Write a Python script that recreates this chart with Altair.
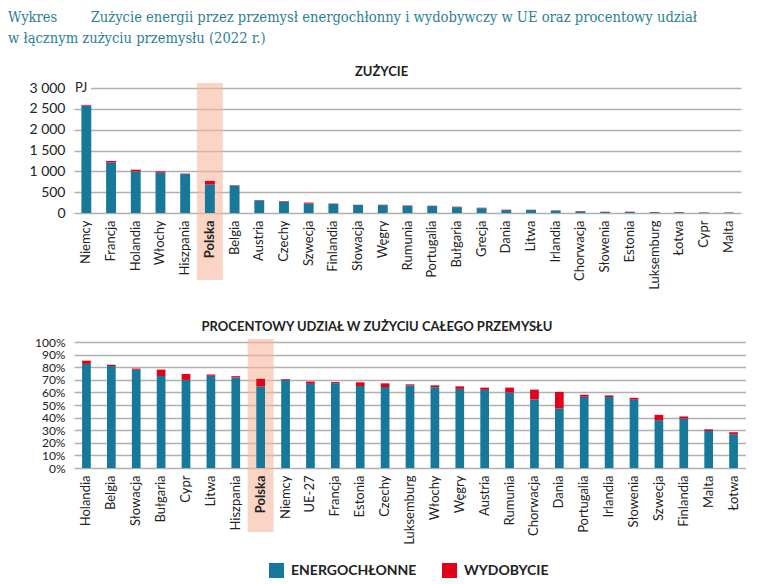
import altair as alt
import pandas as pd

# ---------------- data ----------------
series = ["ENERGOCHŁONNE", "WYDOBYCIE"]

countries_top = ["Niemcy", "Francja", "Holandia", "Włochy", "Hiszpania", "Polska", "Belgia",
                 "Austria", "Czechy", "Szwecja", "Finlandia", "Słowacja", "Węgry", "Rumunia",
                 "Portugalia", "Bułgaria", "Grecja", "Dania", "Litwa", "Irlandia", "Chorwacja",
                 "Słowenia", "Estonia", "Luksemburg", "Łotwa", "Cypr", "Malta"]
energo_top = [2580, 1215, 1000, 970, 935, 690, 660, 303, 275, 225, 222, 193, 190, 172,
              168, 140, 115, 70, 75, 60, 40, 28, 26, 22, 20, 14, 13]
wyd_top = [15, 35, 40, 30, 10, 80, 8, 8, 12, 25, 5, 5, 8, 10,
           6, 12, 12, 10, 4, 4, 8, 4, 6, 2, 4, 2, 1]

countries_bot = ["Holandia", "Belgia", "Słowacja", "Bułgaria", "Cypr", "Litwa", "Hiszpania",
                 "Polska", "Niemcy", "UE-27", "Francja", "Estonia", "Czechy", "Luksemburg",
                 "Włochy", "Węgry", "Austria", "Rumunia", "Chorwacja", "Dania", "Portugalia",
                 "Irlandia", "Słowenia", "Szwecja", "Finlandia", "Malta", "Łotwa"]
energo_bot = [82.6, 81.0, 78.1, 73.0, 69.9, 73.2, 71.9, 64.8, 70.0, 66.8, 67.3, 65.1, 64.3,
              65.6, 64.1, 62.8, 62.0, 59.9, 54.4, 47.4, 56.5, 56.3, 54.2, 38.0, 39.3, 29.4, 26.8]
wyd_bot = [2.6, 1.0, 0.8, 5.1, 4.8, 1.0, 1.0, 6.0, 0.6, 1.8, 0.9, 2.9, 2.9,
           0.8, 1.5, 2.0, 1.8, 3.9, 7.8, 13.0, 1.6, 1.3, 1.5, 4.2, 1.6, 1.3, 1.6]

y_ticks_top = [0, 500, 1000, 1500, 2000, 2500, 3000]
y_ticks_bot = [0, 10, 20, 30, 40, 50, 60, 70, 80, 90, 100]

TEAL = "#17789a"
RED = "#e2001a"
BAND = "#f7b9a0"
FONT = "Lato"


def to_long(countries, e, w):
    rows = []
    for c, a, b in zip(countries, e, w):
        rows.append({"kraj": c, "seria": series[0], "v": a, "o": 0})
        rows.append({"kraj": c, "seria": series[1], "v": b, "o": 1})
    return pd.DataFrame(rows)


color_enc = alt.Color(
    "seria:N",
    scale=alt.Scale(domain=series, range=[TEAL, RED]),
    legend=alt.Legend(title=None, orient="none", legendX=195, legendY=475,
                      direction="horizontal", symbolType="square", symbolSize=225,
                      symbolStrokeWidth=0, labelFontSize=14, labelFontWeight="bold",
                      labelFont=FONT, labelColor="#222", columnPadding=25, labelOffset=7),
)


def panel(countries, e, w, ymax, ticks, lab_expr, width, height, title, title_dx,
          pad_in, pad_out, band_y, band_y2, ylab_size, pj=False):
    df = to_long(countries, e, w)
    xenc = alt.X(
        "kraj:N", sort=countries,
        scale=alt.Scale(domain=countries, paddingInner=pad_in, paddingOuter=pad_out),
        axis=alt.Axis(title=None, labelAngle=270, labelAlign="right", labelBaseline="middle",
                      ticks=False, domain=False, labelPadding=7, labelFontSize=13,
                      labelFont=FONT, labelColor="#222", grid=False, zindex=1,
                      labelFontWeight=alt.condition("datum.value == 'Polska'",
                                                    alt.value("bold"), alt.value("normal"))),
    )
    band = alt.Chart(pd.DataFrame({"kraj": ["Polska"]})).mark_bar(
        color=BAND, opacity=0.6, size=26
    ).encode(x=xenc, y=alt.value(band_y), y2=alt.value(band_y2))
    bars = alt.Chart(df).mark_bar().encode(
        x=xenc,
        y=alt.Y("v:Q", stack="zero", scale=alt.Scale(domain=[0, ymax], nice=False),
                axis=alt.Axis(title=None, values=ticks, labelExpr=lab_expr, ticks=False,
                              domain=False, grid=True, gridColor="#b0b0b0", gridWidth=1.3,
                              labelFontSize=ylab_size, labelFont=FONT, labelColor="#222",
                              labelPadding=9, labelOverlap=False)),
        color=color_enc,
        order=alt.Order("o:Q"),
    )
    layers = [band, bars]
    if pj:
        pj_df = pd.DataFrame({"t": ["PJ"]})
        box = alt.Chart(pj_df).mark_rect(color="white").encode(
            x=alt.value(0), x2=alt.value(17), y=alt.value(-3), y2=alt.value(3))
        txt = alt.Chart(pj_df).mark_text(align="left", baseline="middle", fontSize=13,
                                         font=FONT, color="#222", dx=1).encode(
            x=alt.value(0), y=alt.value(0), text="t:N")
        layers += [box, txt]
    return alt.layer(*layers).properties(
        width=width, height=height,
        title=alt.TitleParams(title, font=FONT, fontSize=13, fontWeight="bold",
                              color="#222", anchor="middle", dx=title_dx, offset=2),
    )


top = panel(countries_top, energo_top, wyd_top, 3000, y_ticks_top,
            "replace(format(datum.value, ','), ',', ' ')", 667, 125, "ZUŻYCIE", -26,
            0.6, 0.3, -5, 192, 14, pj=True)
bot = panel(countries_bot, energo_bot, wyd_bot, 100, y_ticks_bot,
            "datum.value + '%'", 672, 126, "PROCENTOWY UDZIAŁ W ZUŻYCIU CAŁEGO PRZEMYSŁU", -33,
            0.65, 0.325, -3, 190, 12)

line1 = "Wykres" + "\u00a0" * 8 + "Zużycie energii przez przemysł energochłonny i wydobywczy w UE oraz procentowy udział"
line2 = "w łącznym zużyciu przemysłu (2022 r.)"

chart = alt.vconcat(top, bot, spacing=31).properties(
    title=alt.TitleParams([line1, line2], anchor="start", font="DejaVu Serif Condensed",
                          fontSize=14.6, fontWeight="normal", color="#2b7f93",
                          lineHeight=21, offset=20, dx=-66, frame="group"),
    padding={"left": 0, "top": 2, "right": 0, "bottom": 0},
).configure_view(stroke=None).configure_concat(spacing=31)

chart.save("out.html", embed_options={"renderer": "svg", "actions": False})
